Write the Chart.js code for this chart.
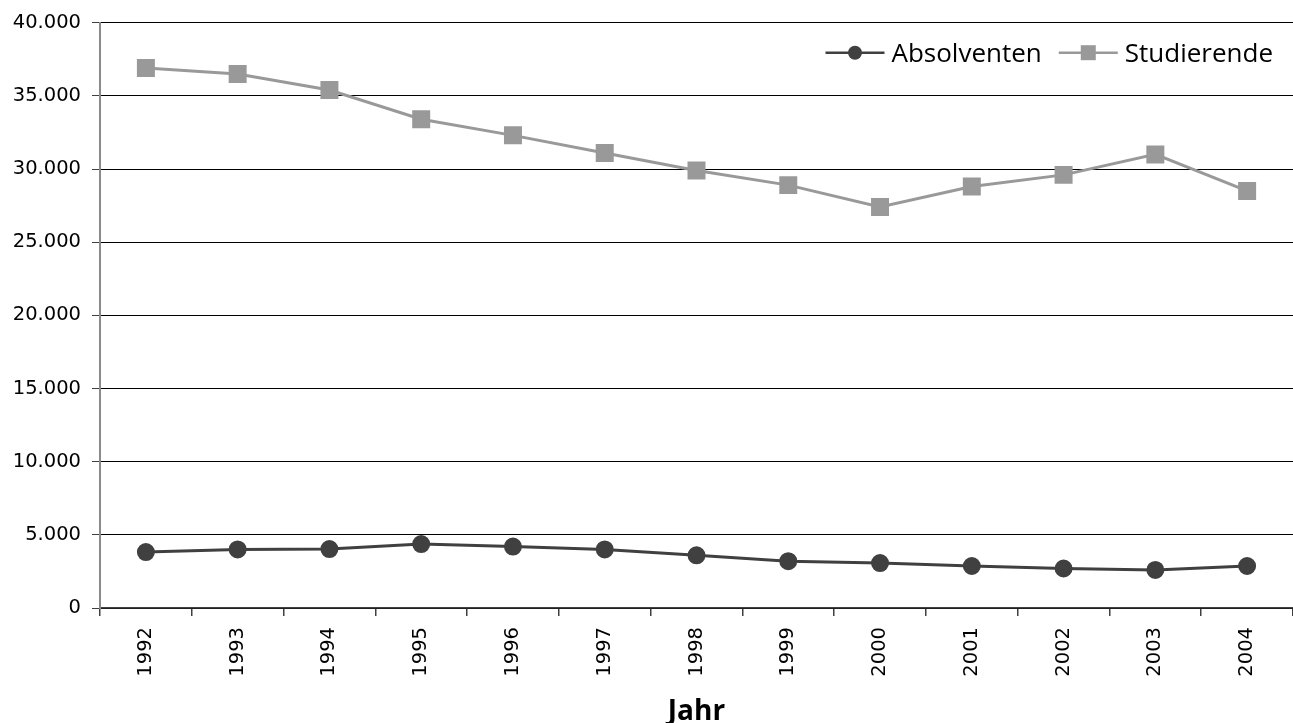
<!DOCTYPE html>
<html>
<head>
<meta charset="utf-8">
<script src="https://cdn.jsdelivr.net/npm/chart.js@4"></script>
<style>
    body { margin: 0; background: #fff; }
    #wrap { width: 1293px; height: 723px; position: relative; }
</style>
</head>
<body>
<div id="wrap"><canvas id="chart"></canvas></div>
<script>
// daten
const years = ['1992', '1993', '1994', '1995', '1996', '1997', '1998', '1999', '2000', '2001', '2002', '2003', '2004'];
const absolventen = [3820, 4000, 4030, 4370, 4200, 4000, 3600, 3200, 3070, 2870, 2700, 2600, 2870];
const studierende = [36900, 36500, 35400, 33400, 32300, 31100, 29900, 28900, 27400, 28800, 29600, 31000, 28500];
const yTicks = [0, 5000, 10000, 15000, 20000, 25000, 30000, 35000, 40000];

const darkColor = '#404040';
const lightColor = '#999999';

function formatGerman(value) {
    return String(value).replace(/\B(?=(\d{3})+(?!\d))/g, '.');
}

// legende: linie mit marker wie im original
const lineLegend = {
    id: 'lineLegend',
    afterDraw(chart) {
        const ctx = chart.ctx;
        const area = chart.chartArea;
        const items = [
            { text: 'Absolventen', color: darkColor, style: 'circle' },
            { text: 'Studierende', color: lightColor, style: 'rect' }
        ];
        ctx.save();
        ctx.font = '26px "Open Sans"';
        ctx.textBaseline = 'alphabetic';
        const y = area.top + 30;
        let x = area.right - 20;
        for (let i = items.length - 1; i >= 0; i--) {
            const item = items[i];
            const w = ctx.measureText(item.text).width;
            x -= w;
            ctx.fillStyle = '#000';
            ctx.fillText(item.text, x, y + 9);
            const lineEnd = x - 7;
            const lineStart = lineEnd - 59;
            ctx.strokeStyle = item.color;
            ctx.lineWidth = 2.5;
            ctx.beginPath();
            ctx.moveTo(lineStart, y);
            ctx.lineTo(lineEnd, y);
            ctx.stroke();
            ctx.fillStyle = item.color;
            const cx = (lineStart + lineEnd) / 2;
            if (item.style === 'circle') {
                ctx.beginPath();
                ctx.arc(cx, y, 7, 0, Math.PI * 2);
                ctx.fill();
            } else {
                ctx.fillRect(cx - 7.5, y - 7.5, 15, 15);
            }
            x = lineStart - 17;
        }
        ctx.restore();
    }
};

const config = {
    type: 'line',
    data: {
        labels: years,
        datasets: [
            {
                label: 'Absolventen',
                data: absolventen,
                borderColor: darkColor,
                backgroundColor: darkColor,
                borderWidth: 3,
                pointStyle: 'circle',
                pointRadius: 7.5,
                pointHoverRadius: 7.5,
                tension: 0
            },
            {
                label: 'Studierende',
                data: studierende,
                borderColor: lightColor,
                backgroundColor: lightColor,
                borderWidth: 3,
                pointStyle: 'rect',
                pointRadius: 10.6,
                pointHoverRadius: 10.6,
                tension: 0
            }
        ]
    },
    options: {
        responsive: true,
        maintainAspectRatio: false,
        animation: false,
        layout: {
            autoPadding: false,
            padding: { top: 22, right: 0, left: 0, bottom: 0 }
        },
        plugins: {
            legend: { display: false },
            tooltip: { enabled: false }
        },
        scales: {
            x: {
                offset: true,
                grid: {
                    offset: true,
                    drawOnChartArea: false,
                    tickLength: 8,
                    color: darkColor,
                    lineWidth: 1.5
                },
                border: { color: darkColor, width: 1.5 },
                ticks: {
                    minRotation: 90,
                    maxRotation: 90,
                    padding: 11,
                    color: '#000',
                    font: { family: 'DejaVu Sans', size: 19.5 }
                },
                title: {
                    display: true,
                    text: 'Jahr',
                    color: '#000',
                    font: { family: 'Open Sans', size: 28, weight: 'bold' },
                    padding: { top: 8, bottom: -6 }
                },
                afterFit(scale) {
                    scale.height = 115;
                    scale.paddingRight = 0;
                }
            },
            y: {
                min: 0,
                max: 40000,
                afterBuildTicks(scale) {
                    scale.ticks = yTicks.map(v => ({ value: v }));
                },
                grid: {
                    color: '#000',
                    lineWidth: 1,
                    tickLength: 8,
                    tickColor: darkColor
                },
                border: { color: '#8a8a8a', width: 2 },
                ticks: {
                    padding: 11,
                    color: '#000',
                    font: { family: 'DejaVu Sans', size: 19.5 },
                    callback: (value) => formatGerman(value)
                },
                afterFit(scale) { scale.width = 100; }
            }
        }
    },
    plugins: [lineLegend]
};

new Chart(document.getElementById('chart'), config);
</script>
</body>
</html>
